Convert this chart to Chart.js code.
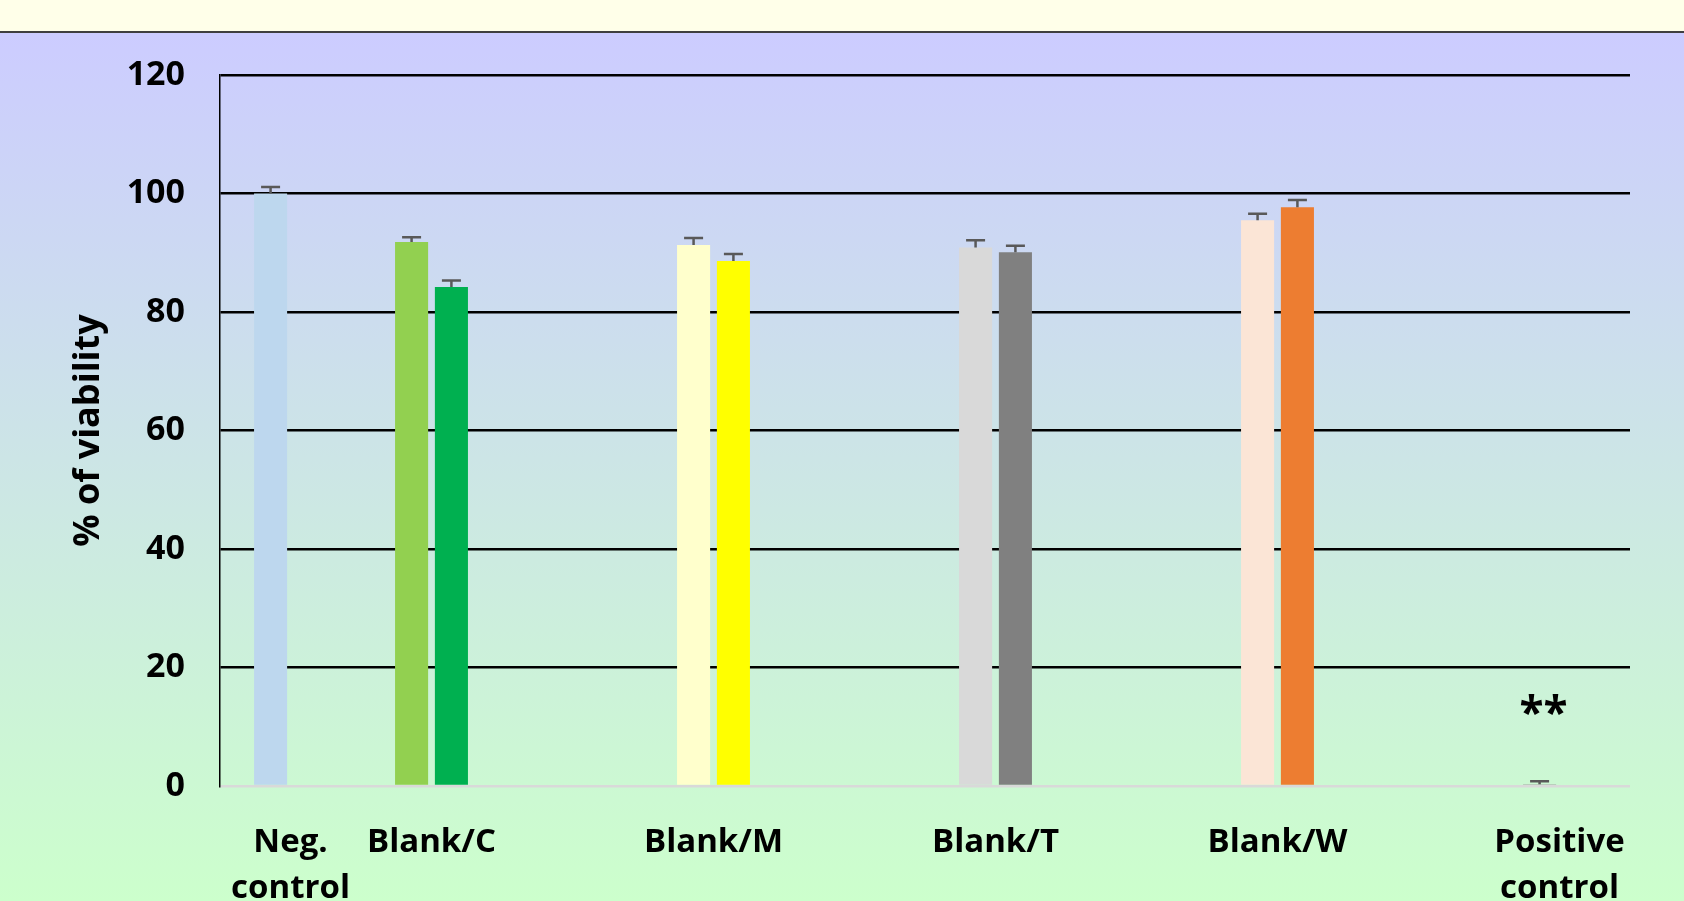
<!DOCTYPE html>
<html>
<head>
<meta charset="utf-8">
<title>% of viability</title>
<script src="https://cdn.jsdelivr.net/npm/chart.js@4.4.1/dist/chart.umd.min.js"></script>
<style>
  html, body {
    margin: 0;
    padding: 0;
    width: 1684px;
    height: 901px;
    overflow: hidden;
  }
  body {
    background: linear-gradient(to bottom,
      #FFFFE9 0px, #FFFFE9 31px,
      #3f3f3f 31px, #3f3f3f 33px,
      #CCCCFF 33px, #CCFFCC 901px);
    font-family: "Open Sans", sans-serif;
  }
  .chart-box {
    position: absolute;
    left: 0;
    top: 0;
    width: 1684px;
    height: 901px;
  }
</style>
</head>
<body>
<div class="chart-box">
  <canvas id="viabilityChart"></canvas>
</div>

<script>
// Data
const categories = [["Neg.", "control"], "Blank/C", "", "Blank/M", "", "Blank/T", "", "Blank/W", "", ["Positive", "control"]];

const firstValues = [100, 91.8, null, 91.3, null, 90.9, null, 95.5, null, 0.3];
const firstErrors = [1.1, 0.8, null, 1.2, null, 1.2, null, 1.1, null, 0.5];
const firstColors = ["#BDD7EE", "#92D050", null, "#FFFFCC", null, "#D9D9D9", null, "#FBE5D6", null, "#A5A5A5"];

const secondValues = [null, 84.2, null, 88.6, null, 90.1, null, 97.7, null, null];
const secondErrors = [null, 1.1, null, 1.2, null, 1.1, null, 1.2, null, null];
const secondColors = [null, "#00B050", null, "#FFFF00", null, "#808080", null, "#ED7D31", null, null];

const significance = ["", "", "", "", "", "", "", "", "", "**"];

const yTicks = [0, 20, 40, 60, 80, 100, 120];

// ==================== PLUGINS ====================

// Upper error bars drawn on top of each bar
const errorBarPlugin = {
  id: "errorBars",
  afterDatasetsDraw(chart) {
    const ctx = chart.ctx;
    const yScale = chart.scales.y;
    ctx.save();
    ctx.strokeStyle = "#595959";
    ctx.lineWidth = 2.5;
    chart.data.datasets.forEach((ds, di) => {
      const meta = chart.getDatasetMeta(di);
      meta.data.forEach((bar, i) => {
        const v = ds.data[i];
        const e = ds.errors[i];
        if (v === null || e === null) return;
        const yTop = yScale.getPixelForValue(v + e);
        const yBar = yScale.getPixelForValue(v);
        ctx.beginPath();
        ctx.moveTo(bar.x, yBar);
        ctx.lineTo(bar.x, yTop);
        ctx.moveTo(bar.x - 9.5, yTop);
        ctx.lineTo(bar.x + 9.5, yTop);
        ctx.stroke();
      });
    });
    ctx.restore();
  }
};

// Significance stars above the positive control
const starsPlugin = {
  id: "stars",
  afterDatasetsDraw(chart) {
    const ctx = chart.ctx;
    const yScale = chart.scales.y;
    const meta = chart.getDatasetMeta(0);
    ctx.save();
    ctx.fillStyle = "#000";
    ctx.font = "bold 44px 'Open Sans'";
    ctx.textAlign = "center";
    ctx.textBaseline = "alphabetic";
    significance.forEach((mark, i) => {
      if (!mark) return;
      const bar = meta.data[i];
      const top = yScale.getPixelForValue(firstValues[i] + firstErrors[i]);
      ctx.fillText(mark, bar.x + 4, top - 53);
    });
    ctx.restore();
  }
};

// ==================== CHART ====================

document.addEventListener("DOMContentLoaded", function () {
  const ctx = document.getElementById("viabilityChart").getContext("2d");

  new Chart(ctx, {
    type: "bar",
    data: {
      labels: categories,
      datasets: [
        {
          label: "Series 1",
          data: firstValues,
          errors: firstErrors,
          backgroundColor: firstColors,
          borderWidth: 0,
          categoryPercentage: 0.565,
          barPercentage: 0.83
        },
        {
          label: "Series 2",
          data: secondValues,
          errors: secondErrors,
          backgroundColor: secondColors,
          borderWidth: 0,
          categoryPercentage: 0.565,
          barPercentage: 0.83
        }
      ]
    },
    options: {
      responsive: true,
      maintainAspectRatio: false,
      animation: false,
      devicePixelRatio: 1,
      layout: {
        padding: { top: 75, right: 54, bottom: 0, left: 0 }
      },
      plugins: {
        legend: { display: false },
        tooltip: { enabled: false }
      },
      scales: {
        x: {
          grid: { display: false },
          border: { display: false },
          ticks: {
            autoSkip: false,
            maxRotation: 0,
            minRotation: 0,
            padding: 25,
            color: "#000",
            font: { family: "'Open Sans'", size: 33, weight: "bold", lineHeight: 1.4 }
          },
          afterFit: function (scale) {
            scale.height = 115;
          }
        },
        y: {
          min: 0,
          max: 120,
          afterBuildTicks: function (scale) {
            scale.ticks = yTicks.map(v => ({ value: v }));
          },
          grid: {
            drawTicks: false,
            lineWidth: 2.5,
            color: function (c) {
              return c.tick && c.tick.value === 0 ? "#D9D9D9" : "#000000";
            }
          },
          border: { display: true, color: "#000", width: 1.5 },
          ticks: {
            padding: 35,
            color: "#000",
            font: { family: "'Open Sans'", size: 34, weight: "bold" }
          },
          title: {
            display: true,
            text: "% of viability",
            color: "#000",
            font: { family: "'Open Sans'", size: 36, weight: "bold", lineHeight: 1.2 },
            padding: { top: 67, bottom: 0 }
          },
          afterFit: function (scale) {
            scale.width = 220;
          }
        }
      }
    },
    plugins: [errorBarPlugin, starsPlugin]
  });
});
</script>
</body>
</html>
